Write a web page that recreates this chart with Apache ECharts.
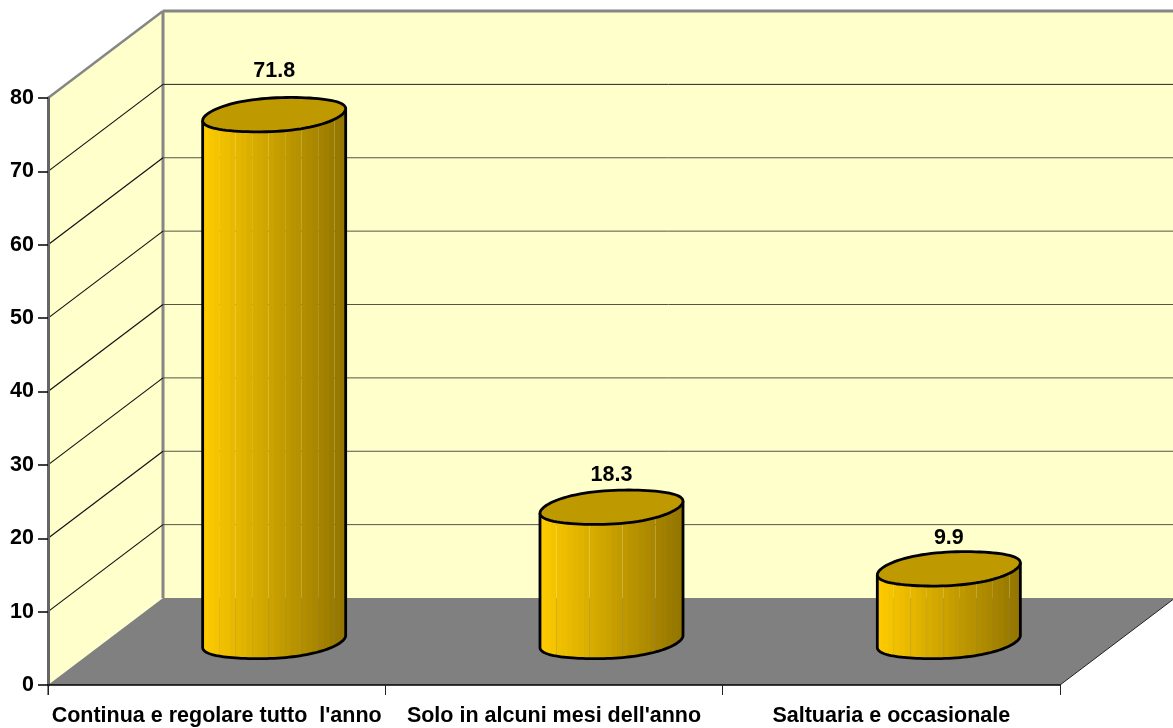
<!DOCTYPE html>
<html>
<head>
<meta charset="utf-8">
<style>html,body{margin:0;padding:0;background:#fff}#chart{width:1173px;height:728px}</style>
<script src="https://cdn.jsdelivr.net/npm/echarts@6/dist/echarts.min.js"></script>
</head>
<body>
<div id="chart"></div>
<script>
const categories = ["Continua e regolare tutto  l'anno", "Solo in alcuni mesi dell'anno", "Saltuaria e occasionale"];
const values = [71.8, 18.3, 9.9];
const gridValues = [10, 20, 30, 40, 50, 60, 70];

// Layout of the oblique projection and of the cylinders
const DEPTH_X = 115, DEPTH_Y = 87;
const BAR_RATIO = 0.424, TILT = 6, MINOR = 16.8;
const LABEL_RISE = [44, 32, 31];
const STRIPS = 26;
const FONT = 'bold 21.5px "Liberation Sans", Arial, sans-serif';

function mix(t) {
  const a = [255, 204, 0], b = [146, 116, 0];
  return 'rgb(' + a.map((v, i) => Math.round(v + (b[i] - v) * t)).join(',') + ')';
}
function poly(points, fill) {
  return { type: 'polygon', shape: { points }, style: { fill }, silent: true };
}
function line(p, q, stroke, lineWidth) {
  return { type: 'line', shape: { x1: p[0], y1: p[1], x2: q[0], y2: q[1] }, style: { stroke, lineWidth }, silent: true };
}

function renderWalls(params, api) {
  const g = params.coordSys;
  const L = g.x, R = g.x + g.width;
  const y0 = api.coord([0, 0])[1], yT = api.coord([0, 80])[1];
  const back = (x, y) => [x + DEPTH_X, y - DEPTH_Y];
  const gray = '#868686';
  return { type: 'group', children: [
    poly([back(L, yT), back(R, yT), back(R, y0), back(L, y0)], '#FFFFCC'),
    poly([[L, yT], back(L, yT), back(L, y0), [L, y0]], '#FFFFCC'),
    poly([[L, y0], back(L, y0), back(R, y0), [R, y0]], '#808080'),
    line([L, yT], back(L, yT), gray, 2.5),
    line(back(L, yT), back(R, yT), gray, 3),
    line(back(L, yT), back(L, y0), gray, 3),
    line([R, y0], back(R, y0), '#222', 1),
    line([L, y0], [L, y0 + 10], gray, 2)
  ]};
}

function renderGrid(params, api) {
  const g = params.coordSys;
  const L = g.x, R = g.x + g.width;
  const y = api.coord([0, api.value(0)])[1];
  const yb = y - DEPTH_Y, xb = L + DEPTH_X;
  return { type: 'group', children: [
    line([L, y], [xb, yb], '#111', 1.2),
    line([xb, yb], [R + DEPTH_X, yb], api.value(0) === 70 ? '#222' : '#555540', 1)
  ]};
}

function renderCylinder(params, api) {
  const idx = api.value(0), val = api.value(1);
  const base = api.coord([idx, 0]), top = api.coord([idx, val]);
  const band = api.size([1, 0])[0];
  const hw = band * BAR_RATIO / 2;
  const cx = base[0] + DEPTH_X / 2;
  const by = base[1] - DEPTH_Y / 2, ty = top[1] - DEPTH_Y / 2;
  const tilt = c => TILT * (0.6 * c + 0.4 * c * c * c);
  const edge = (c, cy, s) => [cx + hw * c, cy - tilt(c) + MINOR * s];
  const lower = c => Math.sqrt(Math.max(0, 1 - c * c));
  const children = [];
  for (let i = 0; i < STRIPS; i++) {
    const pts = [];
    const n = 4;
    const over = i % 3 === 2 ? 0 : 0.3;
    const at = k => Math.min(1, -1 + 2 * (i + (k / n) * (1 + over)) / STRIPS);
    for (let k = 0; k <= n; k++) {
      const c = at(k);
      pts.push(edge(c, by, lower(c)));
    }
    for (let k = n; k >= 0; k--) {
      const c = at(k);
      pts.push(edge(c, ty, lower(c)));
    }
    children.push(poly(pts, mix((i + 0.5) / STRIPS)));
  }
  const outline = [edge(-1, ty, 0)];
  for (let k = 0; k <= 60; k++) {
    const a = Math.PI * (1 - k / 60);
    outline.push(edge(Math.cos(a), by, Math.sin(a)));
  }
  outline.push(edge(1, ty, 0));
  children.push({ type: 'polyline', shape: { points: outline }, style: { stroke: '#000', lineWidth: 2.8, fill: null }, silent: true });
  const cap = [];
  for (let k = 0; k < 90; k++) {
    const a = 2 * Math.PI * k / 90;
    cap.push(edge(Math.cos(a), ty, Math.sin(a)));
  }
  children.push({ type: 'polygon', shape: { points: cap }, style: { fill: '#BF9900', stroke: '#000', lineWidth: 2.8 }, silent: true });
  children.push({ type: 'text', silent: true, style: {
    text: String(val), x: cx, y: ty - LABEL_RISE[idx], textAlign: 'center', textVerticalAlign: 'middle', font: FONT, fill: '#000'
  }});
  return { type: 'group', children };
}

const chart = echarts.init(document.getElementById('chart'), null, { renderer: 'canvas' });
chart.setOption({
  animation: false,
  backgroundColor: '#fff',
  grid: { left: 48, right: 113, top: 98, bottom: 43, containLabel: false },
  xAxis: {
    type: 'category', data: categories, z: 10,
    axisLine: { lineStyle: { color: '#000', width: 1.5 } },
    axisTick: { show: true, length: 10, alignWithLabel: false, lineStyle: { color: '#222', width: 1 } },
    axisLabel: { interval: 0, margin: 20, color: '#000', fontFamily: '"Liberation Sans", Arial, sans-serif', fontWeight: 'bold', fontSize: 21.5 },
    splitLine: { show: false }
  },
  yAxis: {
    type: 'value', min: 0, max: 80, interval: 10, z: 10,
    axisLine: { show: true, lineStyle: { color: '#666', width: 3 } },
    axisTick: { show: true, length: 10, lineStyle: { color: '#000', width: 1.5 } },
    axisLabel: { margin: 14, color: '#000', fontFamily: '"Liberation Sans", Arial, sans-serif', fontWeight: 'bold', fontSize: 21.5 },
    splitLine: { show: false }
  },
  series: [
    { type: 'custom', name: 'walls', z: 1, clip: false, silent: true, renderItem: renderWalls, data: [[0]], encode: { y: 0 } },
    { type: 'custom', name: 'grid', z: 2, clip: false, silent: true, renderItem: renderGrid, data: gridValues.map(v => [v]), encode: { y: 0 } },
    { type: 'custom', name: 'values', z: 20, clip: false, silent: true, renderItem: renderCylinder, data: values.map((v, i) => [i, v]), encode: { x: 0, y: 1 } }
  ]
});
</script>
</body>
</html>
